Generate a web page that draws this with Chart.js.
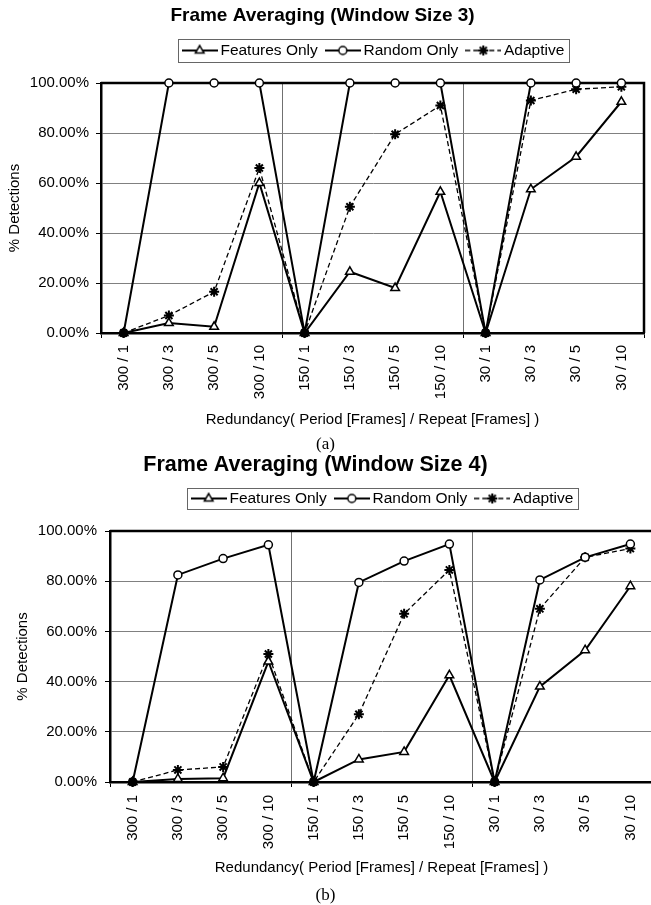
<!DOCTYPE html>
<html><head><meta charset="utf-8">
<script src="https://cdn.jsdelivr.net/npm/chart.js@4/dist/chart.umd.min.js"></script>
<style>
html,body{margin:0;padding:0;background:#fff;overflow:hidden;width:651px;height:905px;position:relative;}
canvas{position:absolute;left:0;display:block;}
#ca{top:0;width:651px;height:433px;}
#cb{top:450px;width:660px;height:455px;}
.cap{position:absolute;left:0;width:651px;text-align:center;font-family:'Liberation Serif','Times New Roman',serif;font-size:17px;color:#000;line-height:20px;}
</style></head>
<body>
<canvas id="ca" width="651" height="433"></canvas>
<canvas id="cb" width="660" height="455"></canvas>
<div class="cap" style="top:434px">(a)</div>
<div class="cap" style="top:885px">(b)</div>
<script>
// ---- data ----
const categories = ['300 / 1','300 / 3','300 / 5','300 / 10','150 / 1','150 / 3','150 / 5','150 / 10','30 / 1','30 / 3','30 / 5','30 / 10'];
const seriesNames = ['Features Only','Random Only','Adaptive'];
const yTickValues = [0,20,40,60,80,100];
const featuresW3 = [0, 4, 2.5, 60, 0, 24.5, 18, 56.5, 0, 57.5, 70.5, 92.5];
const randomW3   = [0, 100, 100, 100, 0, 100, 100, 100, 0, 100, 100, 100];
const adaptiveW3 = [0, 7, 16.5, 66, 0, 50.5, 79.5, 91, 0, 93, 97.5, 98.5];
const featuresW4 = [0, 1.2, 1.5, 48, 0, 9, 12, 42.5, 0, 38, 52.5, 78];
const randomW4   = [0, 82.5, 89, 94.5, 0, 79.5, 88, 94.8, 0, 80.5, 89.5, 94.8];
const adaptiveW4 = [0, 4.8, 6, 51, 0, 27, 67, 84.5, 0, 69, 89.5, 93];
const titleA = 'Frame Averaging (Window Size 3)';
const titleB = 'Frame Averaging (Window Size 4)';
const xTitle = 'Redundancy( Period [Frames] / Repeat [Frames] )';
const yTitle = '% Detections';

Chart.defaults.font.family = "'Liberation Sans', Arial, sans-serif";
Chart.defaults.font.size = 15;
Chart.defaults.color = '#000';

const framePlugin = {
  id: 'frame',
  afterLayout(chart, args, opts) {
    const tb = chart.titleBlock;
    if (tb) {
      const tdx = opts.titleCX - (tb.left + tb.right) / 2;
      tb.left += tdx; tb.right += tdx;
    }
    const lg = chart.legend;
    if (!lg) return;
    const pad = lg.options.labels.padding;
    const fs = Chart.helpers.toFont(lg.options.labels.font).size;
    const dx = opts.legendCX - (lg.left + lg.right) / 2;
    const dy = opts.legendTextY - (lg.top + pad + fs / 2);
    lg.left += dx; lg.right += dx; lg.top += dy; lg.bottom += dy;
  },
  beforeDatasetsDraw(chart) {
    const {ctx, chartArea: a} = chart;
    ctx.save();
    ctx.strokeStyle = '#000'; ctx.lineWidth = 2.5;
    ctx.beginPath();
    ctx.moveTo(a.left, a.top); ctx.lineTo(a.right, a.top); ctx.lineTo(a.right, a.bottom);
    ctx.stroke();
    ctx.restore();
  },
  afterDraw(chart, args, opts) {
    const hb = chart.legend && chart.legend.legendHitBoxes;
    if (!hb || !hb.length) return;
    const ctx = chart.ctx;
    const l = hb[0].left - 9;
    const r = hb[hb.length - 1].left + hb[hb.length - 1].width + 4;
    const t = opts.legendTextY - opts.legendHalfH, b = opts.legendTextY + opts.legendHalfH;
    ctx.save();
    ctx.strokeStyle = '#666'; ctx.lineWidth = 1;
    ctx.strokeRect(Math.round(l) + 0.5, Math.round(t) + 0.5, Math.round(r - l), Math.round(b - t));
    ctx.restore();
  }
};

function legendIcon(style, dashed, radius) {
  const c = document.createElement('canvas');
  c.width = 36; c.height = 14;
  const x = c.getContext('2d');
  x.strokeStyle = '#000'; x.fillStyle = '#fff';
  x.lineWidth = dashed ? 1.3 : 2;
  if (dashed) x.setLineDash([5, 3]);
  x.beginPath(); x.moveTo(0, 7); x.lineTo(36, 7); x.stroke();
  x.setLineDash([]);
  const bw = dashed ? 2 : 1.5;
  x.lineWidth = bw;
  Chart.helpers.drawPoint(x, {pointStyle: style, radius: radius, rotation: 0, borderWidth: bw}, 18, 7);
  return c;
}

function build(id, titleText, feat, rand, adap, L) {
  const mk = (label, data, style, extra) => Object.assign({
    label, data, borderColor: '#000', borderWidth: 2, tension: 0, clip: false, fill: false,
    pointStyle: style, pointRadius: 5, pointHoverRadius: 5, pointBorderColor: '#000', pointBorderWidth: 1.5,
    pointBackgroundColor: c => (c.raw === 0 ? '#000' : '#fff')
  }, extra);
  const datasets = [
    mk(seriesNames[0], feat, 'triangle', {pointRadius: 5}),
    mk(seriesNames[1], rand, 'circle', {pointRadius: 4}),
    mk(seriesNames[2], adap, 'star', {borderWidth: 1.3, borderDash: [5, 3], pointRadius: 5, pointBorderWidth: 2})
  ];
  const icons = [legendIcon('triangle', false, 5), legendIcon('circle', false, 4), legendIcon('star', true, 5)];
  return new Chart(document.getElementById(id), {
    type: 'line',
    data: {labels: categories, datasets},
    options: {
      responsive: false, animation: false, devicePixelRatio: 1,
      layout: {padding: L.padding},
      plugins: {
        title: {display: true, text: titleText, color: '#000', font: {size: L.titleSize, weight: 'bold'}, padding: L.titlePad},
        legend: {
          display: true,
          labels: {
            usePointStyle: true, pointStyleWidth: 26, padding: 12, color: '#000', font: {size: 15.5},
            generateLabels: chart => chart.data.datasets.map((d, i) => ({
              text: d.label, pointStyle: icons[i], fillStyle: '#fff', strokeStyle: '#000',
              lineWidth: 1, hidden: false, datasetIndex: i, fontColor: '#000'
            }))
          }
        },
        tooltip: {enabled: false},
        frame: {titleCX: L.titleCX, legendCX: L.legendCX, legendTextY: L.legendTextY, legendHalfH: L.legendHalfH}
      },
      scales: {
        x: {
          type: 'category', offset: true,
          grid: {
            offset: true, lineWidth: 1, tickLength: 5,
            color: c => (c.index === 4 || c.index === 8) ? '#707070' : 'rgba(0,0,0,0)',
            tickColor: c => (c.index === 0 || c.index === 4 || c.index === 8 || c.index === undefined) ? '#000' : 'rgba(0,0,0,0)'
          },
          border: {display: true, color: '#000', width: 2.5},
          ticks: {autoSkip: false, maxRotation: 90, minRotation: 90, padding: L.xTickPad, color: '#000', font: {size: 15}},
          title: {display: true, text: xTitle, color: '#000', font: {size: 15}, padding: {top: 4, bottom: 4}},
          afterFit: s => { s.height = L.xHeight; }
        },
        y: {
          min: 0, max: 100,
          afterBuildTicks: s => { s.ticks = yTickValues.map(v => ({value: v})); },
          ticks: {padding: L.yTickPad, color: '#000', font: {size: 15}, callback: v => Number(v).toFixed(2) + '%'},
          grid: {color: '#808080', tickColor: '#000', tickLength: 5, lineWidth: 1},
          border: {display: true, color: '#000', width: 2.5},
          title: {display: true, text: yTitle, color: '#000', font: {size: 15}, padding: {top: L.yTitlePad, bottom: 0}},
          afterFit: s => { s.width = L.yWidth; }
        }
      }
    },
    plugins: [framePlugin]
  });
}

build('ca', titleA, featuresW3, randomW3, adaptiveW3, {
  padding: {left: 0, right: 5, top: 0, bottom: 0},
  titleSize: 19, titlePad: {top: 4.5, bottom: 18.2}, titleCX: 322.5,
  legendCX: 375.5, legendTextY: 50.5, legendHalfH: 11.5,
  yWidth: 101, xHeight: 100, yTitlePad: 6, yTickPad: 7, xTickPad: 7
});
build('cb', titleB, featuresW4, randomW4, adaptiveW4, {
  padding: {left: 0, right: 4, top: 0, bottom: 24},
  titleSize: 21.5, titlePad: {top: 1.8, bottom: 15.9}, titleCX: 315.5,
  legendCX: 384.5, legendTextY: 48.5, legendHalfH: 10.5,
  yWidth: 110, xHeight: 99, yTitlePad: 14, yTickPad: 8, xTickPad: 8
});
</script>
</body></html>
